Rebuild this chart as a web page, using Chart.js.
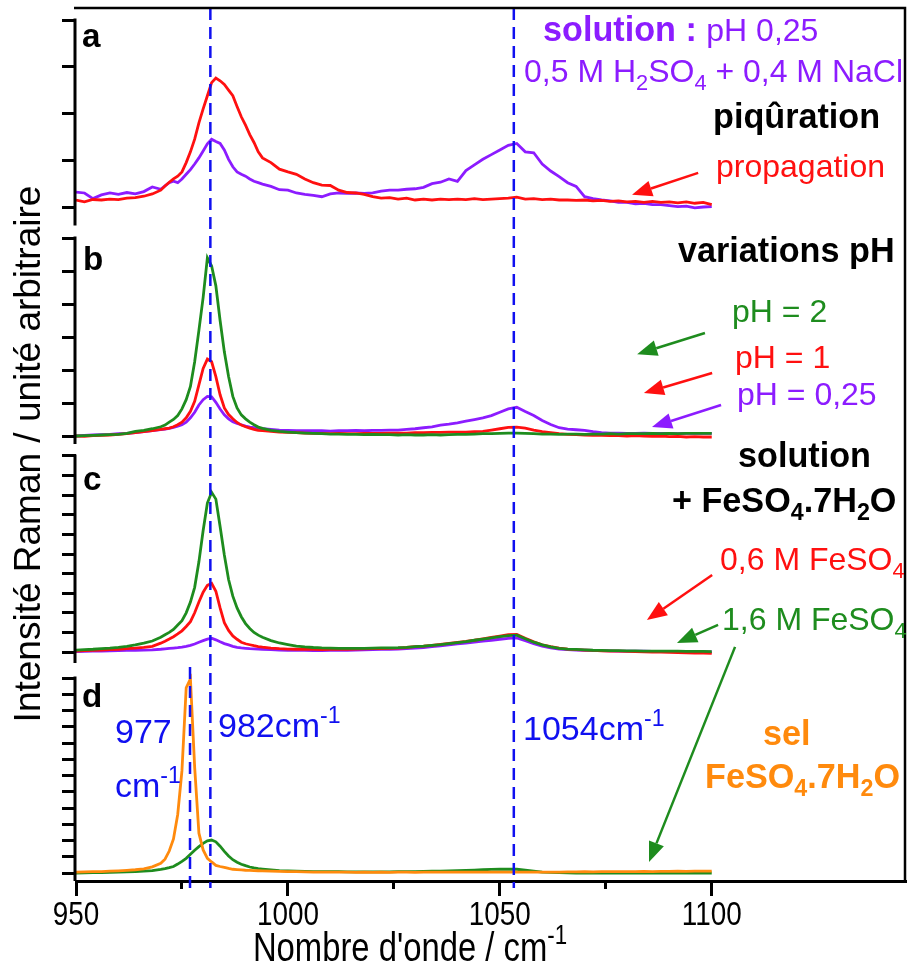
<!DOCTYPE html>
<html lang="fr">
<head>
<meta charset="UTF-8">
<title>Spectres Raman - piqûration</title>
<script src="https://cdn.jsdelivr.net/npm/chart.js@4.4.1/dist/chart.umd.min.js"></script>
<style>
  html, body { margin: 0; padding: 0; background: #fff; }
  #wrap { width: 909px; height: 976px; }
</style>
</head>
<body>
<div id="wrap"><canvas id="raman" width="909" height="976"></canvas></div>
<script>
// wavenumbers (cm-1), finer steps around the 977/982 bands
const wavenumber = [950,952,954,956,958,960,962,964,966,968,970,
  971,972,973,974,975,976,977,978,979,980,981,982,983,984,985,986,987,988,989,990,991,992,993,994,
  996,998,1000,1002,1004,1006,1008,1010,1012,1014,1016,1018,1020,1022,1024,1026,1028,1030,1032,1034,1036,1038,1040,
  1042,1044,1046,1048,1050,1052,1054,1056,1058,1060,1062,1064,1066,1068,1070,1072,1074,1076,1078,1080,1082,1084,1086,1088,1090,1092,1094,1096,1098,1100];

// panel a : piqûration
const aPropagation = [0.15,0.11,0.16,0.15,0.17,0.16,0.19,0.20,0.23,0.28,0.36,
  0.45,0.53,0.60,0.66,0.75,0.95,1.18,1.45,1.80,2.10,2.38,2.66,2.76,2.70,2.62,2.50,2.38,2.15,1.93,1.75,1.55,1.38,1.18,1.05,
  0.95,0.81,0.75,0.70,0.60,0.52,0.47,0.46,0.36,0.31,0.30,0.27,0.22,0.19,0.20,0.17,0.19,0.15,0.17,0.15,0.17,0.16,0.17,
  0.16,0.18,0.16,0.17,0.18,0.19,0.21,0.17,0.18,0.16,0.17,0.15,0.15,0.14,0.15,0.13,0.14,0.12,0.13,0.11,0.12,0.10,0.12,0.10,0.11,0.09,0.11,0.08,0.10,0.05];
const aSolution = [0.32,0.30,0.18,0.26,0.30,0.27,0.31,0.28,0.33,0.43,0.38,
  0.45,0.52,0.55,0.52,0.60,0.70,0.80,0.92,1.05,1.20,1.35,1.45,1.40,1.36,1.22,1.02,0.86,0.75,0.70,0.66,0.60,0.55,0.52,0.49,
  0.44,0.37,0.36,0.30,0.27,0.25,0.22,0.28,0.30,0.29,0.30,0.29,0.30,0.34,0.36,0.36,0.38,0.39,0.42,0.50,0.53,0.60,0.55,
  0.78,0.90,1.02,1.12,1.22,1.32,1.36,1.18,1.16,0.92,0.77,0.65,0.52,0.44,0.22,0.18,0.15,0.13,0.10,0.10,0.07,0.08,0.05,0.05,0.03,0.01,0.02,-0.02,0.00,0.01];

// panel b : variations pH
const bPh2 = [0.00,0.01,0.02,0.03,0.04,0.05,0.08,0.14,0.17,0.22,0.28,
  0.33,0.42,0.50,0.62,0.82,1.10,1.50,2.25,3.20,4.20,5.40,5.15,4.55,3.50,2.55,1.80,1.20,0.85,0.64,0.52,0.42,0.34,0.27,0.23,
  0.17,0.14,0.12,0.10,0.09,0.08,0.07,0.06,0.06,0.05,0.05,0.04,0.05,0.04,0.04,0.03,0.04,0.03,0.03,0.04,0.03,0.04,0.05,
  0.05,0.06,0.07,0.07,0.08,0.09,0.09,0.08,0.07,0.06,0.06,0.05,0.06,0.06,0.05,0.06,0.06,0.07,0.06,0.07,0.07,0.07,0.08,0.07,0.08,0.07,0.08,0.08,0.08,0.08];
const bPh1 = [0.00,-0.01,0.01,0.02,0.03,0.05,0.07,0.10,0.13,0.16,0.20,
  0.22,0.24,0.28,0.34,0.42,0.55,0.75,1.05,1.55,2.05,2.33,2.25,1.80,1.25,0.85,0.65,0.52,0.41,0.33,0.28,0.24,0.20,0.17,0.16,
  0.14,0.12,0.11,0.10,0.09,0.08,0.08,0.07,0.08,0.07,0.07,0.08,0.08,0.08,0.09,0.09,0.09,0.10,0.10,0.11,0.11,0.12,0.12,
  0.12,0.13,0.14,0.18,0.22,0.26,0.27,0.24,0.18,0.13,0.10,0.07,0.05,0.04,0.03,0.02,0.02,0.01,0.01,0.00,0.01,0.00,-0.01,0.00,-0.02,-0.01,-0.03,-0.02,-0.03,-0.03];
const bPh025 = [0.00,0.02,0.03,0.04,0.05,0.07,0.08,0.10,0.13,0.16,0.19,
  0.21,0.23,0.26,0.30,0.34,0.42,0.55,0.72,0.94,1.10,1.20,1.19,1.02,0.82,0.64,0.52,0.43,0.38,0.34,0.30,0.27,0.25,0.23,0.22,
  0.20,0.18,0.17,0.16,0.16,0.16,0.16,0.15,0.16,0.16,0.17,0.16,0.17,0.17,0.18,0.18,0.20,0.22,0.25,0.28,0.33,0.36,0.40,
  0.45,0.50,0.55,0.62,0.72,0.82,0.87,0.74,0.62,0.47,0.35,0.25,0.21,0.19,0.17,0.13,0.10,0.09,0.09,0.08,0.08,0.09,0.08,0.08,0.08,0.07,0.08,0.08,0.08,0.08];

// panel c : solution + FeSO4.7H2O
const cFe16 = [0.10,0.12,0.14,0.17,0.20,0.24,0.29,0.36,0.45,0.56,0.75,
  0.88,1.00,1.15,1.38,1.60,2.00,2.55,3.30,4.60,6.20,7.60,8.15,7.80,6.40,4.95,3.70,2.85,2.25,1.80,1.45,1.20,1.00,0.86,0.75,
  0.58,0.46,0.38,0.30,0.26,0.23,0.21,0.20,0.19,0.19,0.19,0.19,0.20,0.21,0.21,0.22,0.24,0.27,0.30,0.34,0.38,0.43,0.48,
  0.53,0.60,0.66,0.72,0.78,0.84,0.86,0.68,0.50,0.36,0.26,0.19,0.15,0.13,0.11,0.09,0.08,0.07,0.07,0.06,0.06,0.05,0.05,0.05,0.04,0.04,0.03,0.03,0.03,0.02];
const cFe06 = [0.05,0.07,0.08,0.10,0.12,0.14,0.17,0.20,0.24,0.29,0.45,
  0.55,0.66,0.78,0.92,1.08,1.30,1.55,2.00,2.55,3.05,3.40,3.50,3.10,2.25,1.50,1.10,0.82,0.65,0.50,0.42,0.37,0.32,0.28,0.25,
  0.20,0.17,0.15,0.14,0.14,0.13,0.12,0.13,0.13,0.14,0.15,0.16,0.17,0.18,0.19,0.20,0.23,0.27,0.30,0.34,0.39,0.44,0.49,
  0.54,0.60,0.67,0.74,0.81,0.88,0.90,0.70,0.52,0.37,0.27,0.20,0.15,0.12,0.10,0.08,0.06,0.05,0.04,0.03,0.02,0.01,0.00,-0.01,-0.02,-0.03,-0.04,-0.05,-0.06,-0.07];
const cSolution = [0.02,0.03,0.04,0.05,0.06,0.07,0.08,0.09,0.10,0.11,0.14,
  0.16,0.18,0.20,0.22,0.25,0.29,0.34,0.41,0.50,0.58,0.66,0.70,0.62,0.52,0.43,0.36,0.29,0.24,0.21,0.19,0.17,0.16,0.15,0.14,
  0.12,0.10,0.09,0.08,0.08,0.07,0.07,0.08,0.08,0.09,0.10,0.11,0.12,0.13,0.14,0.15,0.17,0.20,0.23,0.27,0.31,0.36,0.41,
  0.45,0.50,0.55,0.60,0.65,0.70,0.72,0.58,0.43,0.30,0.21,0.15,0.12,0.10,0.09,0.08,0.07,0.06,0.05,0.05,0.04,0.04,0.03,0.03,0.02,0.02,0.01,0.01,0.00,0.00];

// panel d : sel FeSO4.7H2O vs 1,6 M FeSO4
const dSalt = [0.06,0.07,0.08,0.09,0.11,0.13,0.16,0.20,0.26,0.38,0.60,
  0.85,1.35,2.10,3.60,6.30,11.40,11.95,6.50,2.45,1.42,0.90,0.68,0.47,0.40,0.35,0.28,0.23,0.21,0.19,0.17,0.16,0.15,0.14,0.13,
  0.12,0.10,0.09,0.08,0.07,0.06,0.06,0.05,0.05,0.05,0.04,0.05,0.04,0.05,0.04,0.05,0.05,0.04,0.05,0.05,0.05,0.06,0.05,
  0.05,0.06,0.05,0.06,0.06,0.06,0.06,0.05,0.06,0.05,0.06,0.06,0.07,0.07,0.08,0.07,0.08,0.08,0.09,0.08,0.09,0.10,0.09,0.10,0.10,0.11,0.10,0.11,0.11,0.12];
const dFe16 = [0.00,0.01,0.02,0.03,0.04,0.05,0.07,0.09,0.11,0.15,0.22,
  0.27,0.33,0.40,0.55,0.72,0.90,1.15,1.40,1.62,1.82,1.98,2.03,1.92,1.65,1.33,1.05,0.82,0.66,0.54,0.45,0.37,0.31,0.27,0.24,
  0.19,0.15,0.13,0.11,0.10,0.09,0.09,0.08,0.08,0.07,0.07,0.07,0.07,0.07,0.07,0.08,0.08,0.09,0.10,0.11,0.12,0.13,0.14,
  0.16,0.18,0.20,0.22,0.23,0.24,0.23,0.17,0.11,0.06,0.04,0.02,0.01,0.00,0.00,0.00,-0.01,0.00,-0.01,0.00,-0.01,0.00,-0.01,0.00,-0.01,0.00,-0.01,0.00,-0.01,0.00];

// band guides and ticks
const bandLines = [981.7, 1053.3];
const saltBand = 976.9;
const xTicks = [950, 1000, 1050, 1100];
const xMinorTicks = [975, 1025, 1075];
const aTicks = [0, 1, 2, 3, 4];
const bTicks = [0, 1, 2, 3, 4, 5, 6];
const cTicks = [0, 1, 2, 3, 4, 5, 6, 7, 8, 9, 10];
const dTicks = [0, 1, 2, 3, 4, 5, 6, 7, 8, 9, 10, 11, 12];

const RED = '#ff1010', PURPLE = '#8c1cff', GREEN = '#1e8c1e', ORANGE = '#ff8a0d', BLUE = '#1010f0';
const SANS = '"Liberation Sans", Arial, sans-serif';
const SQUEEZE = 0.82;   // bottom axis text is set in a condensed face

const pts = vals => wavenumber.map((x, i) => ({ x: x, y: vals[i] }));
function spectrum(vals, color, axis) {
  return { data: pts(vals), borderColor: color, borderWidth: 2.8, pointRadius: 0, tension: 0,
           xAxisID: 'x', yAxisID: axis };
}
function guide(x, top) {
  return { data: [{ x: x, y: top }, { x: x, y: -0.008 }], borderColor: BLUE, borderWidth: 2.5,
           borderDash: [12, 7], pointRadius: 0, xAxisID: 'x', yAxisID: 'yFull', clip: false };
}
function panelScale(min, max, ticks, stackWeight, order) {
  return {
    type: 'linear', position: 'left', stack: 'panels', stackWeight: stackWeight, weight: order,
    min: min, max: max,
    afterBuildTicks: s => { s.ticks = ticks.map(v => ({ value: v })); },
    afterFit: s => { s.width = 14; },
    border: { display: false },
    grid: { drawOnChartArea: false, tickLength: 14, color: '#000', lineWidth: 3 },
    ticks: { display: false }
  };
}

const panels = [
  { id: 'yA', ticks: aTicks, letter: 'a', lx: 82, ly: 47 },
  { id: 'yB', ticks: bTicks, letter: 'b', lx: 83, ly: 270 },
  { id: 'yC', ticks: cTicks, letter: 'c', lx: 83, ly: 490 },
  { id: 'yD', ticks: dTicks, letter: 'd', lx: 82, ly: 707 }
];

const arrows = [
  { color: RED,    from: [1096.8, 0.73, 'yA'], to: [1081.2, 0.26, 'yA'] },
  { color: GREEN,  from: [1098.4, 3.12, 'yB'], to: [1082.4, 2.48, 'yB'] },
  { color: RED,    from: [1100.1, 1.91, 'yB'], to: [1084.0, 1.30, 'yB'] },
  { color: PURPLE, from: [1102.2, 0.94, 'yB'], to: [1085.9, 0.27, 'yB'] },
  { color: RED,    from: [1100.1, 3.93, 'yC'], to: [1084.7, 1.63, 'yC'] },
  { color: GREEN,  from: [1101.5, 1.38, 'yC'], to: [1091.8, 0.46, 'yC'] },
  { color: GREEN,  from: [1105.5, 0.26, 'yC'], to: [1085.2, 0.68, 'yD'] }
];

const notes = [
  { x: 543, y: 41, color: PURPLE, parts: [{ t: 'solution : ', b: 1 }, { t: 'pH 0,25' }] },
  { x: 524, y: 82, color: PURPLE, parts: [{ t: '0,5 M H' }, { t: '2', sub: 1 }, { t: 'SO' }, { t: '4', sub: 1 }, { t: ' + 0,4 M NaCl' }] },
  { x: 713, y: 128, color: '#000', parts: [{ t: 'piqûration', b: 1 }] },
  { x: 716, y: 177, color: RED, parts: [{ t: 'propagation' }] },
  { x: 678, y: 262, color: '#000', parts: [{ t: 'variations pH', b: 1 }] },
  { x: 732, y: 322, color: GREEN, parts: [{ t: 'pH = 2' }] },
  { x: 735, y: 368, color: RED, parts: [{ t: 'pH = 1' }] },
  { x: 737, y: 405, color: PURPLE, parts: [{ t: 'pH = 0,25' }] },
  { x: 738, y: 467, color: '#000', parts: [{ t: 'solution', b: 1 }] },
  { x: 672, y: 512, color: '#000', parts: [{ t: '+ FeSO', b: 1 }, { t: '4', b: 1, sub: 1 }, { t: '.7H', b: 1 }, { t: '2', b: 1, sub: 1 }, { t: 'O', b: 1 }] },
  { x: 720, y: 570, color: RED, parts: [{ t: '0,6 M FeSO' }, { t: '4', sub: 1 }] },
  { x: 722, y: 630, color: GREEN, parts: [{ t: '1,6 M FeSO' }, { t: '4', sub: 1 }] },
  { x: 115, y: 743, color: BLUE, size: 34, parts: [{ t: '977' }] },
  { x: 115, y: 797, color: BLUE, size: 34, parts: [{ t: 'cm' }, { t: '-1', sup: 1 }] },
  { x: 218, y: 737, color: BLUE, size: 34, parts: [{ t: '982cm' }, { t: '-1', sup: 1 }] },
  { x: 523, y: 740, color: BLUE, size: 34, parts: [{ t: '1054cm' }, { t: '-1', sup: 1 }] },
  { x: 763, y: 745, color: ORANGE, parts: [{ t: 'sel', b: 1 }] },
  { x: 705, y: 788, color: ORANGE, parts: [{ t: 'FeSO', b: 1 }, { t: '4', b: 1, sub: 1 }, { t: '.7H', b: 1 }, { t: '2', b: 1, sub: 1 }, { t: 'O', b: 1 }] }
];

// draws text pieces one after the other, with sub/superscripts; returns the width
function rich(ctx, x, y, parts, color, size, draw) {
  ctx.fillStyle = color;
  ctx.textAlign = 'left';
  ctx.textBaseline = 'alphabetic';
  let cx = x;
  parts.forEach(p => {
    const s = (p.sub || p.sup) ? size * 0.68 : size;
    const fs = p.b ? s * 1.07 : s;
    ctx.font = (p.b ? 'bold ' : '') + fs.toFixed(1) + 'px ' + SANS;
    const dy = p.sub ? size * 0.25 : p.sup ? -size * 0.42 : 0;
    if (draw !== false) ctx.fillText(p.t, cx, y + dy);
    cx += ctx.measureText(p.t).width;
  });
  return cx - x;
}

function arrow(ctx, x1, y1, x2, y2, color) {
  const ang = Math.atan2(y2 - y1, x2 - x1);
  const L = 20, W = 8;
  const bx = x2 - L * Math.cos(ang), by = y2 - L * Math.sin(ang);
  ctx.strokeStyle = color; ctx.fillStyle = color; ctx.lineWidth = 2.5;
  ctx.beginPath(); ctx.moveTo(x1, y1); ctx.lineTo(bx, by); ctx.stroke();
  ctx.beginPath();
  ctx.moveTo(x2, y2);
  ctx.lineTo(bx + W * Math.sin(ang), by - W * Math.cos(ang));
  ctx.lineTo(bx - W * Math.sin(ang), by + W * Math.cos(ang));
  ctx.closePath(); ctx.fill();
}

const decor = {
  id: 'decor',
  afterDatasetsDraw(chart) {
    const { ctx, chartArea: area, scales } = chart;
    ctx.save();
    // frame: top and right sides
    ctx.strokeStyle = '#000'; ctx.lineWidth = 2.5;
    ctx.beginPath();
    ctx.moveTo(area.left - 2, area.top);
    ctx.lineTo(area.right, area.top);
    ctx.lineTo(area.right, area.bottom);
    ctx.stroke();
    // one y axis segment per panel, with a gap between panels
    ctx.lineWidth = 3;
    panels.forEach(p => {
      const s = scales[p.id];
      const top = s.getPixelForValue(p.ticks[p.ticks.length - 1]) - 1.5;
      const bottom = p.id === 'yD' ? area.bottom : s.bottom - 6;
      ctx.beginPath();
      ctx.moveTo(area.left - 1, top);
      ctx.lineTo(area.left - 1, bottom);
      ctx.stroke();
    });
    arrows.forEach(a => {
      const x = scales.x;
      arrow(ctx, x.getPixelForValue(a.from[0]), scales[a.from[2]].getPixelForValue(a.from[1]),
                 x.getPixelForValue(a.to[0]), scales[a.to[2]].getPixelForValue(a.to[1]), a.color);
    });
    ctx.restore();
  },
  afterDraw(chart) {
    const ctx = chart.ctx;
    const xs = chart.scales.x;
    ctx.save();
    notes.forEach(n => rich(ctx, n.x, n.y, n.parts, n.color, n.size || 32));
    panels.forEach(p => rich(ctx, p.lx, p.ly, [{ t: p.letter, b: 1 }], '#000', 31));
    // bottom tick labels, condensed
    xs.ticks.forEach(t => {
      const label = String(t.value);
      ctx.save();
      ctx.translate(xs.getPixelForValue(t.value), 925);
      ctx.scale(SQUEEZE, 1);
      rich(ctx, -rich(ctx, 0, 0, [{ t: label }], '#000', 34, false) / 2, 0, [{ t: label }], '#000', 34);
      ctx.restore();
    });
    // x title, condensed
    const xt = [{ t: "Nombre d'onde / cm" }, { t: '-1', sup: 1 }];
    const w = rich(ctx, 0, 0, xt, '#000', 40, false);
    ctx.save();
    ctx.translate(410, 961);
    ctx.scale(SQUEEZE, 1);
    rich(ctx, -w / 2, 0, xt, '#000', 40);
    ctx.restore();
    // y title
    ctx.translate(40, 454);
    ctx.rotate(-Math.PI / 2);
    ctx.font = '37px ' + SANS;
    ctx.fillStyle = '#000';
    ctx.textAlign = 'center';
    ctx.textBaseline = 'alphabetic';
    ctx.fillText('Intensité Raman / unité arbitraire', 0, 0);
    ctx.restore();
  }
};

const datasets = [
  guide(bandLines[0], 1), guide(bandLines[1], 1), guide(saltBand, 0.245),
  spectrum(dSalt, ORANGE, 'yD'), spectrum(dFe16, GREEN, 'yD'),
  spectrum(cFe16, GREEN, 'yC'), spectrum(cFe06, RED, 'yC'), spectrum(cSolution, PURPLE, 'yC'),
  spectrum(bPh2, GREEN, 'yB'), spectrum(bPh1, RED, 'yB'), spectrum(bPh025, PURPLE, 'yB'),
  spectrum(aPropagation, RED, 'yA'), spectrum(aSolution, PURPLE, 'yA')
];

new Chart(document.getElementById('raman'), {
  type: 'line',
  data: { datasets: datasets },
  options: {
    responsive: false,
    animation: false,
    layout: { padding: { left: 62, right: 4, top: 8, bottom: 0 } },
    plugins: { legend: { display: false }, tooltip: { enabled: false } },
    scales: {
      x: {
        type: 'linear', position: 'bottom', weight: 1, min: 950, max: 1145.6,
        afterBuildTicks: s => { s.ticks = xTicks.map(v => ({ value: v })); },
        afterFit: s => { s.height = 95; },
        border: { display: true, color: '#000', width: 3 },
        grid: { drawOnChartArea: false, tickLength: 15, color: '#000', lineWidth: 3 },
        ticks: { display: false }
      },
      xMinor: {
        type: 'linear', position: 'bottom', weight: 0, min: 950, max: 1145.6,
        afterBuildTicks: s => { s.ticks = xMinorTicks.map(v => ({ value: v })); },
        afterFit: s => { s.height = 0; },
        border: { display: false },
        grid: { drawOnChartArea: false, tickLength: 8, color: '#000', lineWidth: 3 },
        ticks: { display: false }
      },
      yFull: { type: 'linear', display: false, min: 0, max: 1 },
      yA: panelScale(-0.524, 4.257, aTicks, 223.5, 4),
      yB: panelScale(-0.424, 6.197, bTicks, 218.5, 3),
      yC: panelScale(-0.867, 10.306, cTicks, 219, 2),
      yD: panelScale(-0.492, 12.554, dTicks, 212, 1)
    }
  },
  plugins: [decor]
});
</script>
</body>
</html>
